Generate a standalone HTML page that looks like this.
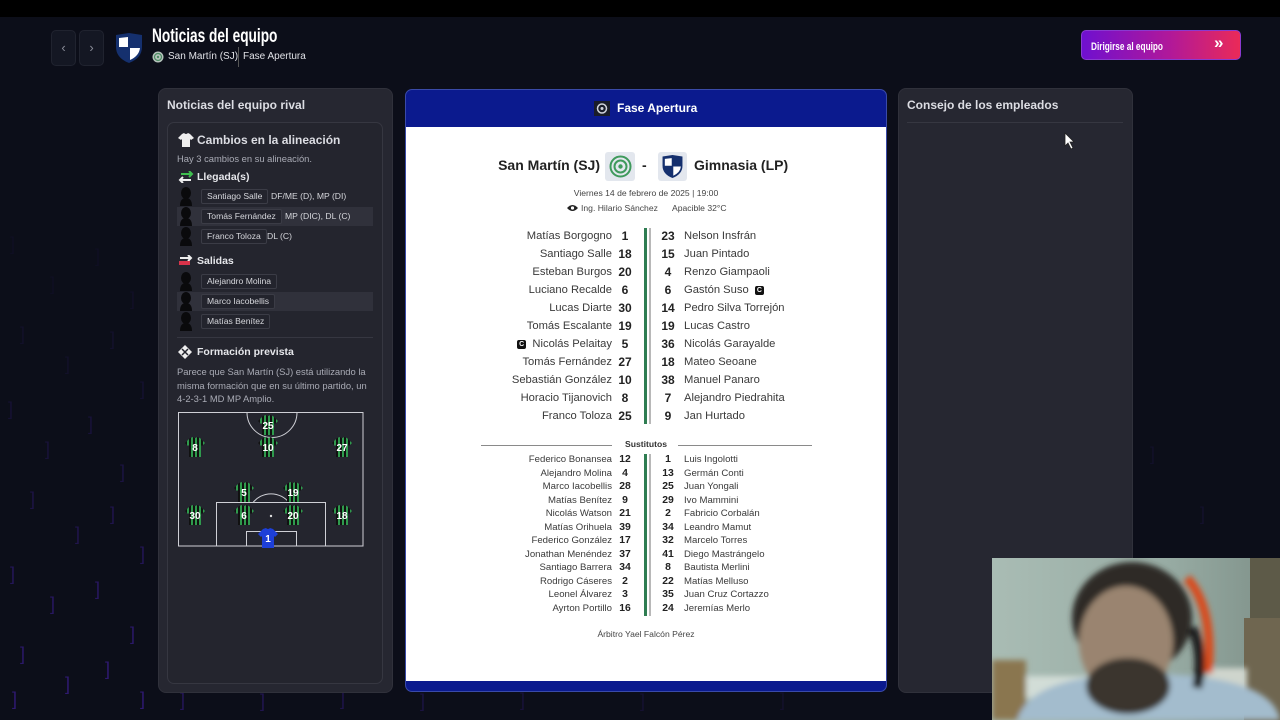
<!DOCTYPE html>
<html><head><meta charset="utf-8">
<style>
*{margin:0;padding:0;box-sizing:border-box}
html,body{width:1280px;height:720px;overflow:hidden}
body{background:#0c0e19;font-family:"Liberation Sans",sans-serif;position:relative}
.a{position:absolute}
.topbar{left:0;top:0;width:1280px;height:17px;background:#000}
.nav{width:25px;height:36px;top:30px;background:#141723;border:1px solid #20232f;border-radius:5px;color:#8a8d99;font-size:13px;text-align:center;line-height:33px}
.panel{background:#262731;border:1px solid #30313b;border-radius:8px}
.ptitle{font-size:12px;font-weight:bold;color:#dcdde3;white-space:nowrap}
.r{position:absolute;left:406px;width:480px;height:18px;line-height:18px;font-size:11.2px;color:#3a3a3a}
.r span{position:absolute;white-space:nowrap}
.ln{right:274px;text-align:right}
.lnum{left:206px;width:26px;text-align:center;font-weight:bold;color:#222;font-size:12px}
.rnum{left:249px;width:26px;text-align:center;font-weight:bold;color:#222;font-size:12px}
.rn{left:278px}
.s{height:13.5px;line-height:13.5px;font-size:9.6px}
.s .lnum,.s .rnum{font-size:10.4px}
.cap{display:inline-block;width:9px;height:9px;background:#111;border-radius:2px;color:#fff;font-size:7px;line-height:9px;text-align:center;font-weight:bold;vertical-align:middle}
.lrow{left:177px;width:196px;height:19px}
.hl{background:#30313b}
.av{position:absolute;left:2px;top:0}
.nb{position:absolute;left:24px;top:2px;height:15px;border:1px solid #3b3c46;border-radius:2px;background:#23242d;color:#d6d7dc;font-size:8.6px;line-height:13px;padding:0 5px;white-space:nowrap}
.pos{position:absolute;top:2px;font-size:8.6px;line-height:15px;color:#d6d7dc;white-space:nowrap}
.grey{color:#a9abb5}
</style></head><body>

<!-- background brackets -->
<svg class="a" style="left:0;top:0;display:block" width="1280" height="720">
<g font-family="Liberation Sans" font-size="18" fill="#4a22b8">
<text x="10" y="250" opacity=".06">]</text><text x="50" y="290" opacity=".06">]</text><text x="95" y="262" opacity=".06">]</text><text x="130" y="305" opacity=".08">]</text>
<text x="20" y="340" opacity=".1">]</text><text x="65" y="370" opacity=".1">]</text><text x="110" y="345" opacity=".12">]</text><text x="140" y="395" opacity=".14">]</text>
<text x="8" y="415" opacity=".16">]</text><text x="45" y="455" opacity=".2">]</text><text x="88" y="430" opacity=".2">]</text><text x="120" y="478" opacity=".25">]</text>
<text x="30" y="505" opacity=".28">]</text><text x="75" y="540" opacity=".32">]</text><text x="110" y="520" opacity=".32">]</text><text x="140" y="560" opacity=".38">]</text>
<text x="10" y="580" opacity=".4">]</text><text x="50" y="610" opacity=".45">]</text><text x="95" y="595" opacity=".45">]</text><text x="130" y="640" opacity=".5">]</text>
<text x="20" y="660" opacity=".5">]</text><text x="65" y="690" opacity=".55">]</text><text x="105" y="675" opacity=".55">]</text><text x="140" y="705" opacity=".55">]</text>
<text x="12" y="705" opacity=".55">]</text><text x="180" y="706" opacity=".4">]</text><text x="260" y="707" opacity=".35">]</text><text x="340" y="705" opacity=".3">]</text>
<text x="420" y="707" opacity=".25">]</text><text x="520" y="706" opacity=".2">]</text><text x="640" y="707" opacity=".15">]</text><text x="780" y="706" opacity=".12">]</text>
<text x="1150" y="460" opacity=".1">]</text><text x="1200" y="520" opacity=".12">]</text>
</g></svg>

<div class="a topbar"></div>

<!-- header -->
<div class="a nav" style="left:51px">&#8249;</div>
<div class="a nav" style="left:79px">&#8250;</div>
<svg class="a" style="left:114px;top:32px" width="30" height="32" viewBox="0 0 30 32">
<path d="M2 3 L15 1 L28 3 L28 15 Q28 26 15 31 Q2 26 2 15 Z" fill="#15306e"/>
<path d="M5 6 L14 5 L14 15 L5 15 Z" fill="#fff"/><path d="M16 16 L26 16 Q25 24 16 28 Z" fill="#fff"/>
</svg>
<div class="a" style="left:152px;top:26px;height:22px;white-space:nowrap"><span style="display:inline-block;font-size:19px;font-weight:bold;color:#fff;transform:scaleX(.72);transform-origin:left">Noticias del equipo</span></div>
<svg class="a" style="left:152px;top:51px" width="12" height="12"><circle cx="6" cy="6" r="5.5" fill="#b7c4bd"/><circle cx="6" cy="6" r="3.5" fill="none" stroke="#4d8b63" stroke-width="1.2"/><circle cx="6" cy="6" r="1.2" fill="#4d8b63"/></svg>
<div class="a" style="left:168px;top:51px;font-size:10px;color:#e0e1e6;white-space:nowrap">San Martín (SJ)</div>
<div class="a" style="left:238px;top:47px;width:1px;height:20px;background:#555"></div>
<div class="a" style="left:243px;top:51px;font-size:10px;color:#e0e1e6;white-space:nowrap">Fase Apertura</div>

<div class="a" style="left:1081px;top:30px;width:160px;height:30px;border-radius:5px;background:linear-gradient(90deg,#6f10cf,#b0189a 55%,#ea2a58);border:1px solid #8a3ad0"></div>
<div class="a" style="left:1091px;top:37px;white-space:nowrap"><span style="display:inline-block;font-size:11px;font-weight:bold;color:#fff;transform:scaleX(.75);transform-origin:left">Dirigirse al equipo</span></div>
<div class="a" style="left:1214px;top:33px;font-size:17px;line-height:20px;color:#fff;font-weight:bold">&#187;</div>

<!-- left panel -->
<div class="a panel" style="left:158px;top:88px;width:235px;height:605px"></div>
<div class="a ptitle" style="left:167px;top:98px">Noticias del equipo rival</div>
<div class="a" style="left:167px;top:122px;width:216px;height:562px;border:1px solid #363741;border-radius:7px;background:#24252e"></div>

<svg class="a" style="left:178px;top:133px" width="16" height="14"><path d="M4 1 L6 0 Q8 2 10 0 L12 1 L16 5 L13 7 L12 6 L12 14 L4 14 L4 6 L3 7 L0 5 Z" fill="#eee"/></svg>
<div class="a ptitle" style="left:197px;top:133px">Cambios en la alineación</div>
<div class="a grey" style="left:177px;top:153px;font-size:9.4px;white-space:nowrap">Hay 3 cambios en su alineación.</div>

<svg class="a" style="left:178px;top:171px" width="16" height="12"><path d="M3 3 H14 M11 0 L14 3 L11 6" stroke="#3fbf4f" stroke-width="2" fill="none"/><path d="M13 9 H2 M5 6 L2 9 L5 12" stroke="#eee" stroke-width="2" fill="none"/></svg>
<div class="a" style="left:197px;top:171px;font-size:10.5px;font-weight:bold;color:#e6e7eb">Llegada(s)</div>

<div class="a lrow" style="top:187px"><svg class="av" width="14" height="19"><ellipse cx="7" cy="6" rx="5" ry="6" fill="#0a0a0c"/><path d="M1 19 Q1 11 7 11 Q13 11 13 19 Z" fill="#0a0a0c"/></svg><span class="nb">Santiago Salle</span><span class="pos" style="left:94px">DF/ME (D), MP (DI)</span></div>
<div class="a lrow hl" style="top:207px"><svg class="av" width="14" height="19"><ellipse cx="7" cy="6" rx="5" ry="6" fill="#0a0a0c"/><path d="M1 19 Q1 11 7 11 Q13 11 13 19 Z" fill="#0a0a0c"/></svg><span class="nb">Tomás Fernández</span><span class="pos" style="left:108px">MP (DIC), DL (C)</span></div>
<div class="a lrow" style="top:227px"><svg class="av" width="14" height="19"><ellipse cx="7" cy="6" rx="5" ry="6" fill="#0a0a0c"/><path d="M1 19 Q1 11 7 11 Q13 11 13 19 Z" fill="#0a0a0c"/></svg><span class="nb">Franco Toloza</span><span class="pos" style="left:90px">DL (C)</span></div>

<svg class="a" style="left:178px;top:255px" width="16" height="12"><path d="M2 3 H13 M10 0 L13 3 L10 6" stroke="#eee" stroke-width="2" fill="none"/><path d="M1 8 H12" stroke="#d8334a" stroke-width="4"/></svg>
<div class="a" style="left:197px;top:255px;font-size:10.5px;font-weight:bold;color:#e6e7eb">Salidas</div>

<div class="a lrow" style="top:272px"><svg class="av" width="14" height="19"><ellipse cx="7" cy="6" rx="5" ry="6" fill="#0a0a0c"/><path d="M1 19 Q1 11 7 11 Q13 11 13 19 Z" fill="#0a0a0c"/></svg><span class="nb">Alejandro Molina</span></div>
<div class="a lrow hl" style="top:292px"><svg class="av" width="14" height="19"><ellipse cx="7" cy="6" rx="5" ry="6" fill="#0a0a0c"/><path d="M1 19 Q1 11 7 11 Q13 11 13 19 Z" fill="#0a0a0c"/></svg><span class="nb">Marco Iacobellis</span></div>
<div class="a lrow" style="top:312px"><svg class="av" width="14" height="19"><ellipse cx="7" cy="6" rx="5" ry="6" fill="#0a0a0c"/><path d="M1 19 Q1 11 7 11 Q13 11 13 19 Z" fill="#0a0a0c"/></svg><span class="nb">Matías Benítez</span></div>

<div class="a" style="left:177px;top:337px;width:196px;height:1px;background:#363741"></div>

<svg class="a" style="left:178px;top:345px" width="15" height="14"><path d="M7 0 L14 7 L7 14 L0 7 Z" fill="#eee"/><path d="M4 4 L10 10 M10 4 L4 10" stroke="#24252e" stroke-width="1.5"/></svg>
<div class="a" style="left:197px;top:346px;font-size:10.5px;font-weight:bold;color:#e6e7eb">Formación prevista</div>
<div class="a grey" style="left:177px;top:365px;width:200px;font-size:9.4px;line-height:13.5px">Parece que San Martín (SJ) está utilizando la misma formación que en su último partido, un 4-2-3-1 MD MP Amplio.</div>

<svg class="a" style="left:177px;top:411px" width="188" height="137" viewBox="-1 -1 188 137">
<defs>
<pattern id="st" width="4" height="4" patternUnits="userSpaceOnUse"><rect width="4" height="4" fill="#111"/><rect width="2" height="4" fill="#2f9a4d"/></pattern>
<g id="sh"><path d="M-5 -9 L-2 -10 Q0 -8 2 -10 L5 -9 L10 -4 L7 -1 L6 -2 L6 10 L-6 10 L-6 -2 L-7 -1 L-10 -4 Z" fill="url(#st)"/></g>
<g id="gk"><path d="M-5 -9 L-2 -10 Q0 -8 2 -10 L5 -9 L10 -4 L7 -1 L6 -2 L6 10 L-6 10 L-6 -2 L-7 -1 L-10 -4 Z" fill="#1d3fd8"/></g>
</defs>
<g stroke="#cfd0d6" stroke-width="1" fill="none">
<path d="M0.5 0.5 H185 V134 H0.5 Z"/>
<path d="M69 0.5 A25 25 0 0 0 119 0.5"/>
<path d="M38.5 134 V90.5 H147.5 V134"/>
<path d="M68.5 134 V119.5 H118.5 V134"/>
<path d="M75 90.5 A23 23 0 0 1 111 90.5"/>
</g>
<circle cx="93" cy="104" r="1.2" fill="#ddd"/>
<g font-family="Liberation Sans" font-weight="bold" font-size="10" fill="#fff" text-anchor="middle">
<use href="#sh" x="90" y="13"/><text x="90" y="17">25</text>
<use href="#sh" x="17" y="35"/><text x="17" y="39">8</text>
<use href="#sh" x="90" y="35"/><text x="90" y="39">10</text>
<use href="#sh" x="164" y="35"/><text x="164" y="39">27</text>
<use href="#sh" x="66" y="80"/><text x="66" y="84">5</text>
<use href="#sh" x="115" y="80"/><text x="115" y="84">19</text>
<use href="#sh" x="17" y="103"/><text x="17" y="107">30</text>
<use href="#sh" x="66" y="103"/><text x="66" y="107">6</text>
<use href="#sh" x="115" y="103"/><text x="115" y="107">20</text>
<use href="#sh" x="164" y="103"/><text x="164" y="107">18</text>
<use href="#gk" x="90" y="126"/><text x="90" y="130">1</text>
</g></svg>

<!-- center card -->
<div class="a" style="left:405px;top:89px;width:482px;height:603px;border-radius:7px;background:#0b1a8e;border:1px solid #3a4aa8"></div>
<div class="a" style="left:406px;top:127px;width:480px;height:554px;background:#fff"></div>
<svg class="a" style="left:594px;top:101px" width="16" height="15"><rect width="16" height="15" fill="#1a1d2a"/><circle cx="8" cy="7.5" r="4.5" fill="none" stroke="#cfd3dc" stroke-width="1.5"/><circle cx="8" cy="7.5" r="1.5" fill="#cfd3dc"/></svg>
<div class="a" style="left:617px;top:101px;font-size:12px;font-weight:bold;color:#fff;white-space:nowrap">Fase Apertura</div>

<div class="a" style="left:420px;top:157px;width:180px;text-align:right;font-size:14px;font-weight:bold;color:#222;white-space:nowrap">San Martín (SJ)</div>
<div class="a" style="left:605px;top:152px;width:30px;height:29px;background:#e3e7ee;border-radius:3px"></div>
<svg class="a" style="left:608px;top:154px" width="25" height="25"><circle cx="12.5" cy="12.5" r="10" fill="none" stroke="#3f9a5c" stroke-width="2"/><circle cx="12.5" cy="12.5" r="6" fill="none" stroke="#3f9a5c" stroke-width="2"/><circle cx="12.5" cy="12.5" r="2.2" fill="#3f9a5c"/></svg>
<div class="a" style="left:642px;top:157px;font-size:14px;font-weight:bold;color:#222">-</div>
<div class="a" style="left:658px;top:152px;width:29px;height:29px;background:#e3e7ee;border-radius:3px"></div>
<svg class="a" style="left:661px;top:154px" width="23" height="25" viewBox="0 0 30 32"><path d="M2 3 L15 1 L28 3 L28 15 Q28 26 15 31 Q2 26 2 15 Z" fill="#15306e"/><path d="M5 6 L14 5 L14 15 L5 15 Z" fill="#fff"/><path d="M16 16 L26 16 Q25 24 16 28 Z" fill="#fff"/></svg>
<div class="a" style="left:694px;top:157px;font-size:14px;font-weight:bold;color:#222;white-space:nowrap">Gimnasia (LP)</div>

<div class="a" style="left:406px;top:188px;width:480px;text-align:center;font-size:8.6px;color:#444">Viernes 14 de febrero de 2025 | 19:00</div>
<svg class="a" style="left:567px;top:204px" width="11" height="8"><path d="M0 4 Q5.5 -2 11 4 Q5.5 10 0 4 Z" fill="#222"/><circle cx="5.5" cy="4" r="1.6" fill="#fff"/></svg>
<div class="a" style="left:581px;top:203px;font-size:8.6px;color:#444;white-space:nowrap">Ing. Hilario Sánchez</div>
<div class="a" style="left:672px;top:203px;font-size:8.6px;color:#444;white-space:nowrap">Apacible 32°C</div>

<div class="a" style="left:644px;top:228px;width:3px;height:196px;background:#2f7d52"></div>
<div class="a" style="left:649px;top:228px;width:1.5px;height:196px;background:#b8b8b8"></div>

<div class="r" style="top:227px"><span class="ln">Matías Borgogno</span><span class="lnum">1</span><span class="rnum">23</span><span class="rn">Nelson Insfrán</span></div>
<div class="r" style="top:245px"><span class="ln">Santiago Salle</span><span class="lnum">18</span><span class="rnum">15</span><span class="rn">Juan Pintado</span></div>
<div class="r" style="top:263px"><span class="ln">Esteban Burgos</span><span class="lnum">20</span><span class="rnum">4</span><span class="rn">Renzo Giampaoli</span></div>
<div class="r" style="top:281px"><span class="ln">Luciano Recalde</span><span class="lnum">6</span><span class="rnum">6</span><span class="rn">Gastón Suso &nbsp;<span class="cap" style="position:static">C</span></span></div>
<div class="r" style="top:299px"><span class="ln">Lucas Diarte</span><span class="lnum">30</span><span class="rnum">14</span><span class="rn">Pedro Silva Torrejón</span></div>
<div class="r" style="top:317px"><span class="ln">Tomás Escalante</span><span class="lnum">19</span><span class="rnum">19</span><span class="rn">Lucas Castro</span></div>
<div class="r" style="top:335px"><span class="ln"><span class="cap" style="position:static">C</span>&nbsp; Nicolás Pelaitay</span><span class="lnum">5</span><span class="rnum">36</span><span class="rn">Nicolás Garayalde</span></div>
<div class="r" style="top:353px"><span class="ln">Tomás Fernández</span><span class="lnum">27</span><span class="rnum">18</span><span class="rn">Mateo Seoane</span></div>
<div class="r" style="top:371px"><span class="ln">Sebastián González</span><span class="lnum">10</span><span class="rnum">38</span><span class="rn">Manuel Panaro</span></div>
<div class="r" style="top:389px"><span class="ln">Horacio Tijanovich</span><span class="lnum">8</span><span class="rnum">7</span><span class="rn">Alejandro Piedrahita</span></div>
<div class="r" style="top:407px"><span class="ln">Franco Toloza</span><span class="lnum">25</span><span class="rnum">9</span><span class="rn">Jan Hurtado</span></div>

<div class="a" style="left:481px;top:445px;width:131px;height:1px;background:#8a8a8a"></div>
<div class="a" style="left:678px;top:445px;width:134px;height:1px;background:#8a8a8a"></div>
<div class="a" style="left:406px;top:439px;width:480px;text-align:center;font-size:8.6px;color:#333;font-weight:bold">Sustitutos</div>

<div class="a" style="left:644px;top:454px;width:3px;height:162px;background:#2f7d52"></div>
<div class="a" style="left:649px;top:454px;width:1.5px;height:162px;background:#b8b8b8"></div>

<div class="r s" style="top:453px"><span class="ln">Federico Bonansea</span><span class="lnum">12</span><span class="rnum">1</span><span class="rn">Luis Ingolotti</span></div>
<div class="r s" style="top:467px"><span class="ln">Alejandro Molina</span><span class="lnum">4</span><span class="rnum">13</span><span class="rn">Germán Conti</span></div>
<div class="r s" style="top:480px"><span class="ln">Marco Iacobellis</span><span class="lnum">28</span><span class="rnum">25</span><span class="rn">Juan Yongali</span></div>
<div class="r s" style="top:494px"><span class="ln">Matías Benítez</span><span class="lnum">9</span><span class="rnum">29</span><span class="rn">Ivo Mammini</span></div>
<div class="r s" style="top:507px"><span class="ln">Nicolás Watson</span><span class="lnum">21</span><span class="rnum">2</span><span class="rn">Fabricio Corbalán</span></div>
<div class="r s" style="top:521px"><span class="ln">Matías Orihuela</span><span class="lnum">39</span><span class="rnum">34</span><span class="rn">Leandro Mamut</span></div>
<div class="r s" style="top:534px"><span class="ln">Federico González</span><span class="lnum">17</span><span class="rnum">32</span><span class="rn">Marcelo Torres</span></div>
<div class="r s" style="top:548px"><span class="ln">Jonathan Menéndez</span><span class="lnum">37</span><span class="rnum">41</span><span class="rn">Diego Mastrángelo</span></div>
<div class="r s" style="top:561px"><span class="ln">Santiago Barrera</span><span class="lnum">34</span><span class="rnum">8</span><span class="rn">Bautista Merlini</span></div>
<div class="r s" style="top:575px"><span class="ln">Rodrigo Cáseres</span><span class="lnum">2</span><span class="rnum">22</span><span class="rn">Matías Melluso</span></div>
<div class="r s" style="top:588px"><span class="ln">Leonel Álvarez</span><span class="lnum">3</span><span class="rnum">35</span><span class="rn">Juan Cruz Cortazzo</span></div>
<div class="r s" style="top:602px"><span class="ln">Ayrton Portillo</span><span class="lnum">16</span><span class="rnum">24</span><span class="rn">Jeremías Merlo</span></div>

<div class="a" style="left:406px;top:629px;width:480px;text-align:center;font-size:8.6px;color:#444">Árbitro Yael Falcón Pérez</div>

<!-- right panel -->
<div class="a panel" style="left:898px;top:88px;width:235px;height:605px"></div>
<div class="a ptitle" style="left:907px;top:98px">Consejo de los empleados</div>
<div class="a" style="left:907px;top:122px;width:216px;height:1px;background:#363741"></div>
<svg class="a" style="left:1064px;top:132px" width="12" height="18"><path d="M1 1 L1 14 L4 11 L7 17 L9 16 L6 10 L10 10 Z" fill="#fff" stroke="#222" stroke-width=".8"/></svg>

<!-- webcam -->
<svg class="a" style="left:992px;top:558px;display:block" width="288" height="162" viewBox="0 0 288 162">
<defs>
<linearGradient id="wall" x1="0" y1="0" x2="1" y2="0"><stop offset="0" stop-color="#a9bcb4"/><stop offset=".6" stop-color="#98aca4"/><stop offset="1" stop-color="#7e9088"/></linearGradient>
<filter id="bl"><feGaussianBlur stdDeviation="3"/></filter>
<clipPath id="cc"><rect width="288" height="162"/></clipPath>
</defs>
<g clip-path="url(#cc)">
<rect width="288" height="162" fill="url(#wall)"/>
<rect x="258" y="0" width="30" height="162" fill="#5d5a48"/>
<rect x="252" y="60" width="36" height="102" fill="#6f6650"/>
<g filter="url(#bl)">
<rect x="30" y="118" width="90" height="22" fill="#d2ddd7"/>
<rect x="0" y="102" width="34" height="60" fill="#8a7650"/>
<rect x="215" y="110" width="40" height="28" fill="#cfd5cd"/>
<path d="M25 162 Q40 114 160 116 Q280 118 288 162 Z" fill="#a3bccd"/>
<ellipse cx="140" cy="60" rx="60" ry="56" fill="#2e2c27"/>
<ellipse cx="134" cy="84" rx="47" ry="56" fill="#9a8470"/>
<ellipse cx="136" cy="128" rx="42" ry="28" fill="#3b342d"/>
<path d="M195 20 Q222 50 216 115" stroke="#d84c1e" stroke-width="9" fill="none"/>
<path d="M200 70 Q212 95 205 130" stroke="#1e1e1e" stroke-width="10" fill="none"/>
</g>
</g>
</svg>

</body></html>
